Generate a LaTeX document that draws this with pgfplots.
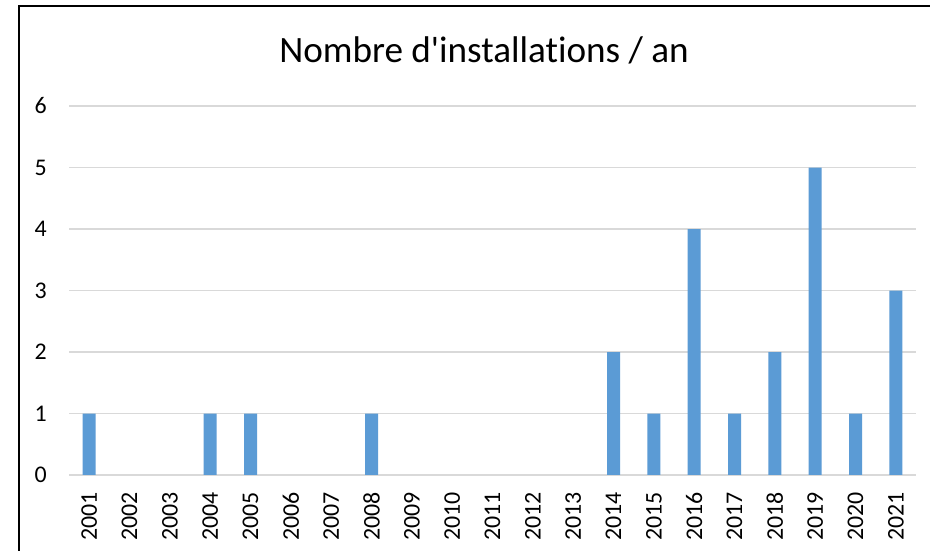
\documentclass[border=0pt]{standalone}
\usepackage{pgfplots}
\pgfplotsset{compat=1.18}
\usepackage{fontspec}
\setmainfont{Carlito}[Ligatures={NoCommon}]
\definecolor{barblue}{HTML}{5B9BD5}
\definecolor{gridgray}{HTML}{D9D9D9}
\begin{document}
\begin{tikzpicture}
\useasboundingbox (0bp,0bp) rectangle (930bp,551bp);
\fill[white] (0bp,0bp) rectangle (930bp,551bp);
\draw[line width=2.2bp, black] (19bp,-10bp) -- (19bp,545bp) -- (945bp,545bp);
\node[font=\fontsize{37.3}{40}\selectfont, anchor=base] at (484bp,488bp) {Nombre d\textquotesingle installations / an};
\begin{axis}[
  at={(69bp,76bp)}, anchor=south west,
  scale only axis, width=847bp, height=369bp,
  xmin=-0.5, xmax=20.5, ymin=0, ymax=6,
  axis x line*=bottom, axis y line*=left,
  axis line style={draw=none},
  ytick={0,1,2,3,4,5,6},
  xtick={0,...,20},
  xticklabels={2001,2002,2003,2004,2005,2006,2007,2008,2009,2010,2011,2012,2013,2014,2015,2016,2017,2018,2019,2020,2021},
  major tick length=0pt,
  ymajorgrids,
  grid style={gridgray, line width=1.5bp},
  /pgf/number format/assume math mode=true,
  tick label style={font=\fontsize{24}{27}\selectfont, inner sep=0pt, text=black},
  xticklabel style={rotate=90, anchor=east},
  yticklabel style={anchor=east},
  xticklabel shift=17bp,
  yticklabel shift=22bp,
  clip=false,
]
% years with zero installations (2002, 2003, 2006, 2007, 2009-2013) draw no bar
\addplot[ybar, bar width=13bp, fill=barblue, draw=none] table[x=x, y=y] {
x y
0 1
3 1
4 1
7 1
13 2
14 1
15 4
16 1
17 2
18 5
19 1
20 3
};
\end{axis}
\end{tikzpicture}
\end{document}
